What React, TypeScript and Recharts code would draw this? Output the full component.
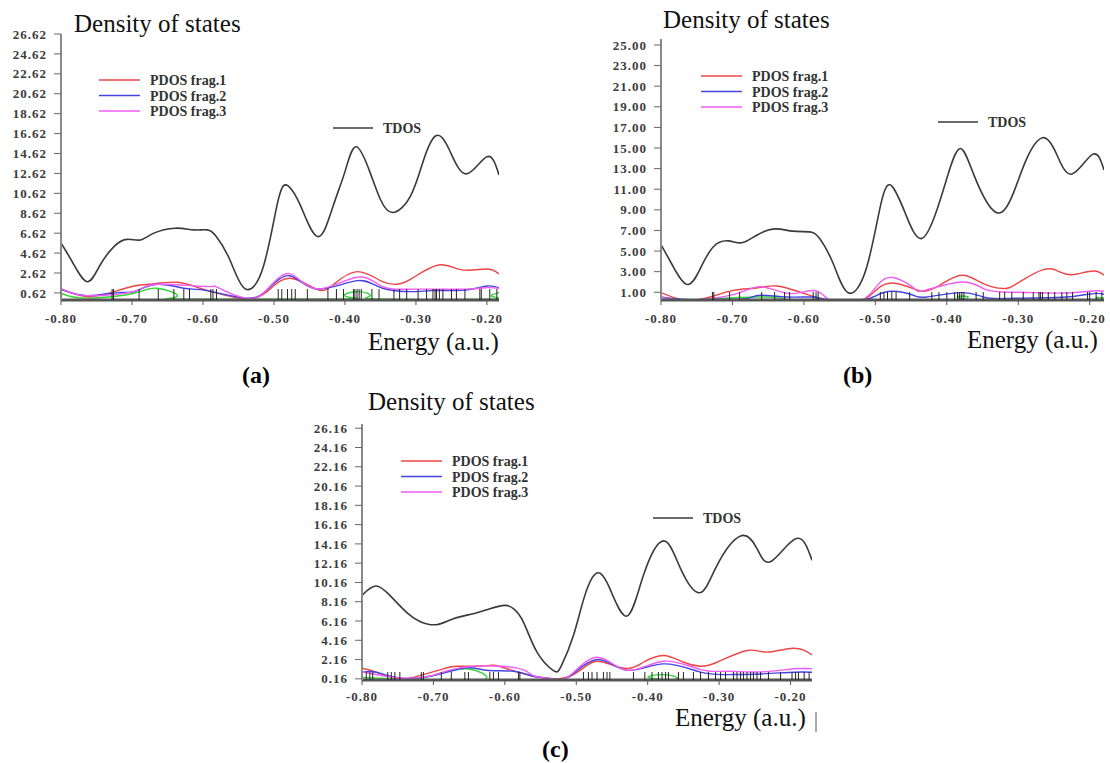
import React from 'react';
import { ComposedChart, Line, Scatter, XAxis, YAxis } from 'recharts';

type P = [number, number];

// ---------- shared ----------
const energyTicks = [-0.8, -0.7, -0.6, -0.5, -0.4, -0.3, -0.2];
const seriesNames = ['PDOS frag.1', 'PDOS frag.2', 'PDOS frag.3'];
const tdosName = 'TDOS';
const titleText = 'Density of states';
const xLabelText = 'Energy (a.u.)';

// ---------- panel (a) ----------
const aYTicks = [0.62, 2.62, 4.62, 6.62, 8.62, 10.62, 12.62, 14.62, 16.62, 18.62, 20.62, 22.62, 24.62, 26.62];
const aTdos: P[] = [
  [-0.8, 5.64], [-0.783, 3.6], [-0.763, 1.75], [-0.745, 3.4], [-0.725, 5.3], [-0.707, 6.0], [-0.688, 5.94],
  [-0.67, 6.6], [-0.639, 7.12], [-0.613, 6.95], [-0.594, 6.95], [-0.581, 6.27], [-0.562, 3.93], [-0.541, 1.05],
  [-0.515, 3.26], [-0.494, 9.96], [-0.48, 11.36], [-0.462, 9.28], [-0.438, 6.27], [-0.417, 9.28], [-0.4, 12.8],
  [-0.384, 15.3], [-0.364, 12.6], [-0.35, 10.0], [-0.333, 8.7], [-0.308, 10.3], [-0.29, 13.8], [-0.272, 16.4],
  [-0.253, 15.0], [-0.229, 12.57], [-0.2, 14.3], [-0.183, 12.47],
];
const aFrag1: P[] = [
  [-0.8, 0.99], [-0.764, 0.25], [-0.73, 0.65], [-0.697, 1.32], [-0.675, 1.49], [-0.637, 1.69], [-0.604, 1.09],
  [-0.58, 0.59], [-0.54, 0.02], [-0.51, 0.75], [-0.478, 2.1], [-0.44, 0.99], [-0.417, 1.42], [-0.383, 2.76],
  [-0.347, 1.75], [-0.324, 1.52], [-0.305, 2.1], [-0.268, 3.43], [-0.235, 2.93], [-0.2, 3.03], [-0.183, 2.53],
];
const aFrag2: P[] = [
  [-0.8, 0.99], [-0.764, 0.35], [-0.72, 0.65], [-0.697, 0.75], [-0.665, 1.49], [-0.627, 1.09], [-0.594, 0.85],
  [-0.54, 0.1], [-0.51, 0.92], [-0.478, 2.35], [-0.44, 1.02], [-0.383, 1.86], [-0.347, 1.09], [-0.3, 0.75],
  [-0.277, 0.85], [-0.23, 0.92], [-0.2, 1.32], [-0.183, 1.15],
];
const aFrag3: P[] = [
  [-0.8, 1.09], [-0.764, 0.35], [-0.697, 0.78], [-0.665, 1.49], [-0.594, 1.26], [-0.58, 1.2], [-0.54, 0.1],
  [-0.51, 0.95], [-0.478, 2.56], [-0.44, 1.02], [-0.383, 2.2], [-0.347, 1.26], [-0.3, 1.0], [-0.23, 1.0],
  [-0.2, 1.15], [-0.183, 1.09],
];
const aFrag4: P[] = [
  [-0.8, 0.59], [-0.764, 0.1], [-0.697, 0.59], [-0.665, 1.09], [-0.637, 0.25], [-0.63, 0], [-0.41, 0],
  [-0.398, 0.25], [-0.383, 0.75], [-0.365, 0.3], [-0.35, 0], [-0.2, 0], [-0.192, 0.25], [-0.183, 0.65],
];
const aLevels = [
  -0.728, -0.726, -0.69, -0.663, -0.641, -0.627, -0.619, -0.589, -0.586, -0.581, -0.494, -0.489, -0.481, -0.475,
  -0.47, -0.453, -0.424, -0.412, -0.402, -0.388, -0.386, -0.383, -0.38, -0.377, -0.362, -0.352, -0.331, -0.323,
  -0.313, -0.297, -0.285, -0.276, -0.273, -0.271, -0.267, -0.262, -0.25, -0.243, -0.231, -0.21, -0.208, -0.196,
  -0.186,
];

// ---------- panel (b) ----------
const bYTicks = [1, 3, 5, 7, 9, 11, 13, 15, 17, 19, 21, 23, 25];
const bTdos: P[] = [
  [-0.8, 5.63], [-0.783, 3.5], [-0.763, 1.75], [-0.745, 3.3], [-0.727, 5.4], [-0.706, 5.99], [-0.687, 5.8],
  [-0.666, 6.54], [-0.641, 7.15], [-0.616, 6.93], [-0.592, 6.86], [-0.578, 6.21], [-0.559, 3.79], [-0.538, 0.95],
  [-0.512, 3.46], [-0.491, 9.94], [-0.476, 11.23], [-0.458, 8.65], [-0.436, 6.21], [-0.414, 8.97], [-0.398, 12.5],
  [-0.381, 14.96], [-0.361, 12.2], [-0.331, 8.75], [-0.307, 10.6], [-0.288, 14.0], [-0.266, 16.0], [-0.247, 14.5],
  [-0.225, 12.47], [-0.196, 14.38], [-0.18, 12.86],
];
const bFrag1: P[] = [
  [-0.8, 0.97], [-0.766, 0.22], [-0.731, 0.54], [-0.699, 1.19], [-0.666, 1.42], [-0.638, 1.61], [-0.606, 1.03],
  [-0.578, 0.39], [-0.559, 0.0], [-0.522, 0.1], [-0.498, 1.27], [-0.476, 1.9], [-0.447, 1.36], [-0.431, 1.1],
  [-0.41, 1.68], [-0.379, 2.65], [-0.349, 1.84], [-0.321, 1.36], [-0.302, 1.84], [-0.265, 3.2], [-0.242, 2.97],
  [-0.223, 2.72], [-0.195, 3.07], [-0.18, 2.65],
];
const bFrag2: P[] = [
  [-0.8, 0.54], [-0.766, 0.3], [-0.713, 0.3], [-0.68, 0.39], [-0.661, 0.71], [-0.624, 0.54], [-0.587, 0.54],
  [-0.568, 0.3], [-0.522, 0.22], [-0.498, 0.71], [-0.476, 1.1], [-0.447, 0.71], [-0.428, 0.54], [-0.379, 0.97],
  [-0.349, 0.54], [-0.321, 0.39], [-0.279, 0.45], [-0.232, 0.54], [-0.195, 0.87], [-0.18, 0.8],
];
const bFrag3: P[] = [
  [-0.8, 0.54], [-0.766, 0.22], [-0.699, 0.77], [-0.661, 1.55], [-0.624, 0.9], [-0.596, 1.1], [-0.578, 1.0],
  [-0.559, 0.1], [-0.522, 0.1], [-0.498, 1.6], [-0.476, 2.43], [-0.447, 1.45], [-0.431, 1.19], [-0.379, 2.0],
  [-0.349, 1.36], [-0.321, 1.03], [-0.279, 0.97], [-0.232, 0.93], [-0.195, 1.13], [-0.18, 1.1],
];
const bFrag4: P[] = [
  [-0.8, 0.39], [-0.766, 0.22], [-0.666, 0.54], [-0.624, 0.22], [-0.6, 0], [-0.4, 0], [-0.385, 0.54],
  [-0.37, 0.54], [-0.355, 0], [-0.21, 0], [-0.19, 0.45], [-0.18, 0.45],
];
const bLevels = [
  -0.728, -0.726, -0.704, -0.69, -0.659, -0.641, -0.627, -0.62, -0.587, -0.583, -0.58, -0.493, -0.488, -0.483,
  -0.477, -0.471, -0.452, -0.421, -0.411, -0.4, -0.389, -0.385, -0.382, -0.379, -0.376, -0.359, -0.349, -0.326,
  -0.319, -0.309, -0.293, -0.279, -0.271, -0.269, -0.266, -0.258, -0.249, -0.239, -0.232, -0.224, -0.203, -0.2,
  -0.191, -0.183,
];

// ---------- panel (c) ----------
const cYTicks = [0.16, 2.16, 4.16, 6.16, 8.16, 10.16, 12.16, 14.16, 16.16, 18.16, 20.16, 22.16, 24.16, 26.16];
const cTdos: P[] = [
  [-0.8, 8.82], [-0.781, 9.79], [-0.761, 8.82], [-0.738, 7.09], [-0.719, 6.12], [-0.696, 5.78], [-0.672, 6.4],
  [-0.644, 6.92], [-0.621, 7.44], [-0.6, 7.78], [-0.588, 7.44], [-0.574, 6.05], [-0.555, 2.93], [-0.532, 1.02],
  [-0.521, 1.5], [-0.504, 4.66], [-0.488, 8.82], [-0.471, 11.14], [-0.453, 9.52], [-0.429, 6.67], [-0.406, 10.9],
  [-0.378, 14.47], [-0.354, 11.6], [-0.327, 9.1], [-0.303, 11.94], [-0.27, 14.99], [-0.247, 13.68],
  [-0.227, 12.36], [-0.192, 14.72], [-0.17, 12.46],
];
const cFrag1: P[] = [
  [-0.8, 1.26], [-0.78, 0.85], [-0.747, 0.16], [-0.719, 0.5], [-0.686, 1.2], [-0.668, 1.47], [-0.635, 1.47],
  [-0.616, 1.57], [-0.593, 1.12], [-0.56, 0.43], [-0.532, 0.16], [-0.509, 0.43], [-0.49, 1.3], [-0.471, 1.99],
  [-0.448, 1.54], [-0.425, 1.26], [-0.406, 1.88], [-0.378, 2.58], [-0.35, 1.88], [-0.326, 1.47], [-0.303, 1.88],
  [-0.261, 3.1], [-0.233, 2.93], [-0.196, 3.34], [-0.17, 2.65],
];
const cFrag2: P[] = [
  [-0.8, 0.85], [-0.78, 0.85], [-0.747, 0.25], [-0.7, 0.5], [-0.654, 1.3], [-0.626, 1.05], [-0.588, 0.95],
  [-0.56, 0.43], [-0.532, 0.16], [-0.509, 0.43], [-0.471, 2.16], [-0.429, 1.05], [-0.378, 1.71], [-0.326, 0.85],
  [-0.289, 0.6], [-0.242, 0.67], [-0.196, 0.85], [-0.17, 0.85],
];
const cFrag3: P[] = [
  [-0.8, 0.9], [-0.747, 0.25], [-0.7, 0.55], [-0.654, 1.4], [-0.584, 1.3], [-0.56, 0.5], [-0.532, 0.16],
  [-0.509, 0.5], [-0.471, 2.4], [-0.429, 1.05], [-0.378, 1.99], [-0.326, 1.12], [-0.289, 0.95], [-0.242, 0.88],
  [-0.196, 1.2], [-0.17, 1.2],
];
const cFrag4: P[] = [
  [-0.8, 0.3], [-0.747, 0.16], [-0.7, 0.5], [-0.654, 1.2], [-0.626, 0.2], [-0.61, 0], [-0.4, 0], [-0.397, 0.25],
  [-0.378, 0.6], [-0.359, 0.16], [-0.35, 0], [-0.17, 0],
];
const cLevels = [
  -0.794, -0.789, -0.785, -0.764, -0.759, -0.754, -0.747, -0.717, -0.714, -0.689, -0.675, -0.656, -0.651, -0.621,
  -0.616, -0.609, -0.581, -0.579, -0.49, -0.483, -0.478, -0.471, -0.462, -0.457, -0.453, -0.42, -0.404, -0.394,
  -0.385, -0.38, -0.375, -0.371, -0.357, -0.35, -0.336, -0.326, -0.315, -0.305, -0.298, -0.291, -0.28, -0.275,
  -0.27, -0.266, -0.261, -0.256, -0.252, -0.247, -0.242, -0.231, -0.214, -0.198, -0.193, -0.189, -0.181, -0.174,
];

// ---------- styling ----------
const FONT = '"Liberation Serif", "Times New Roman", serif';
const C_F1 = '#ee4444';
const C_F2 = '#4444e6';
const C_F3 = '#f25cf2';
const C_F4 = '#33d633';
const C_TDOS = '#3a3a3a';

const toPts = (arr: P[]) => arr.map(([x, y]) => ({ x, y }));

type PanelProps = {
  left: number; top: number; width: number; height: number;
  margin: { top: number; right: number; bottom: number; left: number };
  yAxisWidth: number;
  xDomain: [number, number];
  yDomain: [number, number];
  yTicks: number[];
  tdos: P[]; f1: P[]; f2: P[]; f3: P[]; f4: P[];
  levels: number[];
  stickLen: number;
  xTickMargin: number;
};

const tickStyle = {
  fontFamily: FONT, fontSize: 13, fontWeight: 700, fill: '#3c3c3c', letterSpacing: 1,
};

function Panel(p: PanelProps) {
  const sticks = p.levels.map((x) => ({ x, y: p.yDomain[0] }));
  const StickShape = (props: any) => {
    const { cx, cy } = props;
    if (cx == null || cy == null) return null;
    return <line x1={cx} x2={cx} y1={cy} y2={cy - p.stickLen} stroke="#262626" strokeWidth={1} />;
  };
  const lineProps = { type: 'natural' as const, dataKey: 'y', dot: false, activeDot: false, isAnimationActive: false, strokeWidth: 1.4 };
  return (
    <div style={{ position: 'absolute', left: p.left, top: p.top }}>
      <ComposedChart width={p.width} height={p.height} margin={p.margin}>
        <XAxis
          type="number" dataKey="x" domain={p.xDomain} ticks={energyTicks} allowDataOverflow interval={0}
          tickFormatter={(v: number) => v.toFixed(2)} height={40}
          axisLine={{ stroke: '#555', strokeWidth: 3 }} tickLine={{ stroke: '#555' }} tickSize={5} tickMargin={p.xTickMargin}
          tick={tickStyle}
        />
        <YAxis
          type="number" dataKey="y" domain={p.yDomain} ticks={p.yTicks} allowDataOverflow interval={0}
          tickFormatter={(v: number) => v.toFixed(2)} width={p.yAxisWidth}
          axisLine={{ stroke: '#8a8a8a', strokeWidth: 2 }} tickLine={{ stroke: '#666' }} tickSize={7} tickMargin={7}
          tick={tickStyle}
        />
        <Scatter data={sticks} dataKey="y" shape={StickShape} isAnimationActive={false} />
        <Line {...lineProps} data={toPts(p.f4)} stroke={C_F4} />
        <Line {...lineProps} data={toPts(p.f1)} stroke={C_F1} />
        <Line {...lineProps} data={toPts(p.f2)} stroke={C_F2} />
        <Line {...lineProps} data={toPts(p.f3)} stroke={C_F3} />
        <Line {...lineProps} data={toPts(p.tdos)} stroke={C_TDOS} strokeWidth={1.6} />
      </ComposedChart>
    </div>
  );
}

function LegendBlock({ x, y, tx, ty }: { x: number; y: number; tx: number; ty: number }) {
  const colors = [C_F1, C_F2, C_F3];
  return (
    <g>
      {seriesNames.map((n, i) => (
        <g key={n}>
          <line x1={x} x2={x + 41} y1={y + i * 15.5} y2={y + i * 15.5} stroke={colors[i]} strokeWidth={1.6} />
          <text x={x + 51} y={y + i * 15.5 + 5} fontFamily={FONT} fontWeight={700} fontSize={14} fill="#333">{n}</text>
        </g>
      ))}
      <line x1={tx} x2={tx + 40} y1={ty} y2={ty} stroke={C_TDOS} strokeWidth={1.6} />
      <text x={tx + 50} y={ty + 5} fontFamily={FONT} fontWeight={700} fontSize={14} fill="#333">{tdosName}</text>
    </g>
  );
}

export default function App() {
  return (
    <div style={{ position: 'absolute', left: 0, top: 0, width: 1110, height: 763, background: '#fff', overflow: 'hidden' }}>
      <Panel
        left={0} top={0} width={510} height={340} margin={{ top: 34, right: 11, bottom: 0, left: 0 }} yAxisWidth={61}
        xDomain={[-0.8, -0.183]} yDomain={[-0.09, 26.62]} yTicks={aYTicks}
        tdos={aTdos} f1={aFrag1} f2={aFrag2} f3={aFrag3} f4={aFrag4} levels={aLevels} stickLen={11} xTickMargin={9}
      />
      <Panel
        left={600} top={0} width={510} height={340} margin={{ top: 39, right: 6, bottom: 0, left: 0 }} yAxisWidth={61}
        xDomain={[-0.8, -0.18]} yDomain={[0.25, 25.58]} yTicks={bYTicks}
        tdos={bTdos} f1={bFrag1} f2={bFrag2} f3={bFrag3} f4={bFrag4} levels={bLevels} stickLen={8} xTickMargin={9}
      />
      <Panel
        left={300} top={390} width={530} height={330} margin={{ top: 34, right: 18, bottom: 0, left: 0 }} yAxisWidth={62}
        xDomain={[-0.8, -0.17]} yDomain={[0.04, 26.6]} yTicks={cYTicks}
        tdos={cTdos} f1={cFrag1} f2={cFrag2} f3={cFrag3} f4={cFrag4} levels={cLevels} stickLen={8} xTickMargin={7}
      />
      <svg width={1110} height={763} style={{ position: 'absolute', left: 0, top: 0, pointerEvents: 'none' }}>
        {/* titles */}
        <text x={74} y={32} fontFamily={FONT} fontSize={25} fill="#111">{titleText}</text>
        <text x={663} y={28} fontFamily={FONT} fontSize={25} fill="#111">{titleText}</text>
        <text x={368} y={410} fontFamily={FONT} fontSize={25} fill="#111">{titleText}</text>
        {/* x labels */}
        <text x={368} y={350} fontFamily={FONT} fontSize={25} fill="#111">{xLabelText}</text>
        <text x={967} y={348} fontFamily={FONT} fontSize={25} fill="#111">{xLabelText}</text>
        <text x={675} y={726} fontFamily={FONT} fontSize={25} fill="#111">{xLabelText}</text>
        {/* panel labels */}
        <text x={242} y={383} fontFamily={FONT} fontSize={24} fontWeight={700} fill="#000">(a)</text>
        <text x={843} y={383} fontFamily={FONT} fontSize={24} fontWeight={700} fill="#000">(b)</text>
        <text x={542} y={757} fontFamily={FONT} fontSize={24} fontWeight={700} fill="#000">(c)</text>
        {/* legends */}
        <LegendBlock x={99} y={80} tx={333} ty={128} />
        <LegendBlock x={701} y={76} tx={938} ty={122} />
        <LegendBlock x={401} y={461} tx={653} ty={518} />
        <line x1={816} x2={816} y1={712} y2={732} stroke="#555" strokeWidth={1} />
      </svg>
    </div>
  );
}
